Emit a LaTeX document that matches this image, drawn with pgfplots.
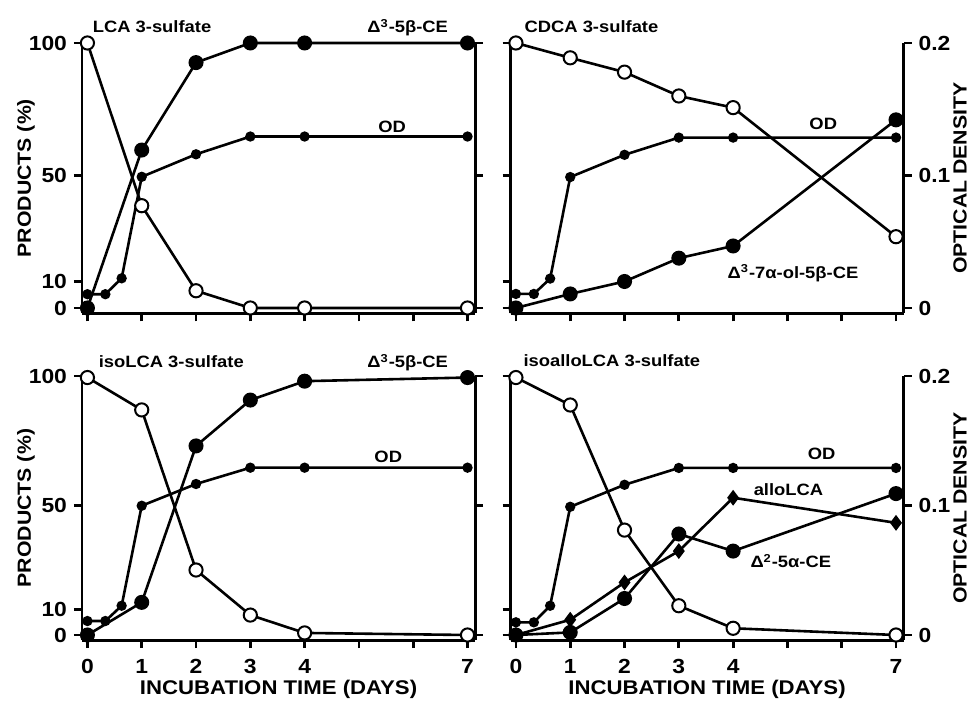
\documentclass[border=0pt]{standalone}
\usepackage{fontspec}
\setmainfont{Liberation Sans}[FakeStretch=1.12]
\usepackage{pgfplots}
\pgfplotsset{compat=1.18}

\pgfplotsset{
  panel/.style={
    scale only axis, anchor=south west, clip=false,
    width=196.55pt,
    xmin=-0.1, xmax=7.14, ymin=-2, ymax=100,
    axis x line=bottom, axis y line=left,
    axis line style={line width=1.4pt,-},
    xtick={0,1,2,3,4,5,6,7},
    ytick={0,10,50,100},
    tick align=outside, major tick length=4pt,
    tick style={black, line width=1.4pt},
    ticklabel style={font=\bfseries\fontsize{10.2}{12}\selectfont},
    xticklabel style={yshift=-2pt},
    label style={font=\bfseries\fontsize{9.5}{11}\selectfont},
    xlabel style={at={(axis description cs:0.5,-0.205)}, anchor=base, font=\bfseries\fontsize{9.9}{11}\selectfont},
    ylabel style={at={(axis description cs:-0.1425,0.5)}, anchor=center, rotate=0},
  },
  rspine/.style={
    scale only axis, anchor=south west, clip=false,
    width=196.55pt,
    xmin=-0.1, xmax=7.14,
    axis x line=none, axis y line=right,
    axis line style={line width=1.4pt,-},
    tick align=outside, major tick length=4pt,
    tick style={black, line width=1.4pt},
    ticklabel style={font=\bfseries\fontsize{10.2}{12}\selectfont},
    label style={font=\bfseries\fontsize{9.5}{11}\selectfont},
    ylabel style={at={(axis description cs:1.1437,0.5)}, anchor=center, rotate=0},
  },
  odline/.style={black, line width=1.3pt, mark=*, mark size=1.9pt, mark options={fill=black}, y filter/.expression={500*y}},
  prodline/.style={black, line width=1.3pt, mark=*, mark size=3.1pt, mark options={fill=black}},
  dialine/.style={black, line width=1.3pt, mark=diamond*, mark size=2.9pt, mark options={fill=black}},
  subline/.style={black, line width=1.3pt, mark=*, mark size=3.3pt, mark options={fill=white, draw=black, line width=1pt}},
}
\newcommand{\ann}{\bfseries\fontsize{8.2}{9}\selectfont}

\begin{document}
\begin{tikzpicture}
\path[use as bounding box] (0,0) rectangle (484.5pt,352pt);

% ---------------- top left: LCA 3-sulfate
\begin{axis}[panel, at={(41pt,195.35pt)}, height=135.15pt,
  xticklabels={}, yticklabels={0,10,50,100},
  ylabel={PRODUCTS (\%)}]
\addplot[odline] coordinates {(0,0.0104) (0.33,0.0104) (0.63,0.0224) (1,0.099) (2,0.116) (3,0.1294) (4,0.1294) (7,0.1294)};
\addplot[prodline] coordinates {(0,0) (1,59.6) (2,92.6) (3,100) (4,100) (7,100)};
\addplot[subline] coordinates {(0,100) (1,38.6) (2,6.5) (3,0) (4,0) (7,0)};
\node[font=\ann, anchor=base west] at (axis cs:-0.03,103.8) {LCA 3-sulfate};
\node[font=\ann, anchor=base east] at (axis cs:6.77,103.8) {Δ\textsuperscript{3}-5β-CE};
\node[font=\ann, anchor=base] at (axis cs:5.61,66.4) {OD};
\end{axis}
\begin{axis}[rspine, at={(41pt,195.35pt)}, height=135.15pt, ymin=-2, ymax=100, ytick={0,50,100}, yticklabels={}]
\end{axis}

% ---------------- top right: CDCA 3-sulfate
\begin{axis}[panel, at={(255.25pt,195.35pt)}, height=135.15pt,
  xticklabels={}, yticklabels={}]
\addplot[odline] coordinates {(0,0.0106) (0.33,0.0106) (0.63,0.0222) (1,0.0988) (2,0.1156) (3,0.1286) (4,0.1286) (7,0.1286)};
\addplot[prodline] coordinates {(0,0) (1,5.3) (2,10) (3,18.8) (4,23.4) (7,71)};
\addplot[subline] coordinates {(0,100) (1,94.4) (2,89) (3,80) (4,75.6) (7,26.9)};
\node[font=\ann, anchor=base west] at (axis cs:0.03,103.8) {CDCA 3-sulfate};
\node[font=\ann, anchor=base] at (axis cs:5.66,67.2) {OD};
\node[font=\ann, anchor=base west] at (axis cs:3.77,11.3) {Δ\textsuperscript{3}-7α-ol-5β-CE};
\end{axis}
\begin{axis}[rspine, at={(255.25pt,195.35pt)}, height=135.15pt, ymin=-0.004, ymax=0.2,
  ytick={0,0.1,0.2}, yticklabels={0,0.1,0.2}, ylabel={OPTICAL DENSITY}]
\end{axis}

% ---------------- bottom left: isoLCA 3-sulfate
\begin{axis}[panel, at={(41pt,31.9pt)}, height=132.1pt,
  xticklabels={0,1,2,3,4,{},{},7}, yticklabels={0,10,50,100},
  xlabel={INCUBATION TIME (DAYS)}, ylabel={PRODUCTS (\%)}]
\addplot[odline] coordinates {(0,0.0108) (0.33,0.0108) (0.63,0.0226) (1,0.0998) (2,0.1166) (3,0.1292) (4,0.1292) (7,0.1292)};
\addplot[prodline] coordinates {(0,0) (1,12.6) (2,73) (3,90.7) (4,98) (7,99.4)};
\addplot[subline] coordinates {(0,99.4) (1,86.9) (2,25.1) (3,7.7) (4,0.8) (7,0)};
\node[font=\ann, anchor=base west] at (axis cs:0.08,103.1) {isoLCA 3-sulfate};
\node[font=\ann, anchor=base east] at (axis cs:6.77,103.1) {Δ\textsuperscript{3}-5β-CE};
\node[font=\ann, anchor=base] at (axis cs:5.54,66.5) {OD};
\end{axis}
\begin{axis}[rspine, at={(41pt,31.9pt)}, height=132.1pt, ymin=-2, ymax=100, ytick={0,50,100}, yticklabels={}]
\end{axis}

% ---------------- bottom right: isoalloLCA 3-sulfate
\begin{axis}[panel, at={(255.25pt,31.9pt)}, height=132.1pt,
  xticklabels={0,1,2,3,4,{},{},7}, yticklabels={},
  xlabel={INCUBATION TIME (DAYS)}]
\addplot[odline] coordinates {(0,0.0098) (0.33,0.0098) (0.63,0.0226) (1,0.099) (2,0.116) (3,0.129) (4,0.129) (7,0.129)};
\addplot[dialine] coordinates {(0,0) (1,5.9) (2,20.3) (3,32.4) (4,53) (7,43.3)};
\addplot[prodline] coordinates {(0,0) (1,1) (2,14.1) (3,39) (4,32.4) (7,54.6)};
\addplot[subline] coordinates {(0,99.4) (1,88.8) (2,40.5) (3,11.3) (4,2.6) (7,0)};
\node[font=\ann, anchor=base west] at (axis cs:0.01,103.6) {isoalloLCA 3-sulfate};
\node[font=\ann, anchor=base] at (axis cs:5.63,67.6) {OD};
\node[font=\ann, anchor=base west] at (axis cs:4.25,53.7) {alloLCA};
\node[font=\ann, anchor=base west] at (axis cs:4.19,26) {Δ\textsuperscript{2}-5α-CE};
\end{axis}
\begin{axis}[rspine, at={(255.25pt,31.9pt)}, height=132.1pt, ymin=-0.004, ymax=0.2,
  ytick={0,0.1,0.2}, yticklabels={0,0.1,0.2}, ylabel={OPTICAL DENSITY}]
\end{axis}
\end{tikzpicture}
\end{document}
